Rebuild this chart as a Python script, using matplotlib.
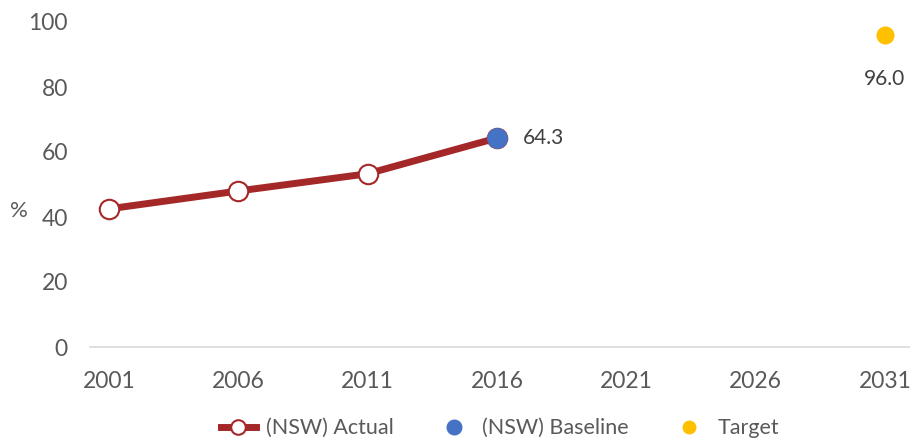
import numpy as np
import matplotlib.pyplot as plt

# data
years_actual = [2001, 2006, 2011, 2016]
actual = [42.5, 48.0, 53.3, 64.3]
baseline_year = [2016]
baseline = [64.3]
target_year = [2031]
target = [96.0]
xticks = [2001, 2006, 2011, 2016, 2021, 2026, 2031]

grey = '#595959'
plt.rcParams['font.family'] = ['Lato', 'DejaVu Sans']

fig = plt.figure(figsize=(9.1, 4.44), dpi=100)
ax = fig.add_axes([90/910, 1-347/444, 820/910, 325/444])

ax.plot(years_actual, actual, color='#A52828', linewidth=5, marker='o',
        markersize=14, markerfacecolor='white', markeredgecolor='#A52828',
        markeredgewidth=1.5, label='(NSW) Actual', zorder=3)
ax.plot(baseline_year, baseline, linestyle='none', marker='o', markersize=14,
        color='#4472C4', label='(NSW) Baseline', zorder=4)
ax.plot(target_year, target, linestyle='none', marker='o', markersize=12,
        color='#FFC000', label='Target', zorder=4)

ax.annotate('%.1f' % baseline[0], (baseline_year[0], baseline[0]), xytext=(19, 0),
            textcoords='offset points', va='center', ha='left', fontsize=15, color='#404040')
ax.annotate('%.1f' % target[0], (target_year[0], target[0]), xytext=(0, -32),
            textcoords='offset points', va='center', ha='center', fontsize=15, color='#404040')

ax.set_xlim(2000.27, 2031.97)
ax.set_ylim(0, 100)
ax.set_xticks(xticks)
ax.set_yticks([0, 20, 40, 60, 80, 100])
ax.tick_params(length=0, labelsize=16.5, colors=grey)
ax.tick_params(axis='x', pad=17)
ax.tick_params(axis='y', pad=16)
for s in ['top', 'right', 'left']:
    ax.spines[s].set_visible(False)
ax.spines['bottom'].set_color('#D9D9D9')
ax.spines['bottom'].set_linewidth(1.2)

fig.text(10/910, 1-211/444, '%', fontsize=16, color=grey, va='center')

leg = ax.legend(loc='center', bbox_to_anchor=(0.5, -0.25), ncol=3, frameon=False,
                fontsize=15.5, labelcolor=grey, handlelength=1.6, columnspacing=2.0,
                handletextpad=0.5, markerscale=0.75)

fig.savefig('out.png', dpi=100)
